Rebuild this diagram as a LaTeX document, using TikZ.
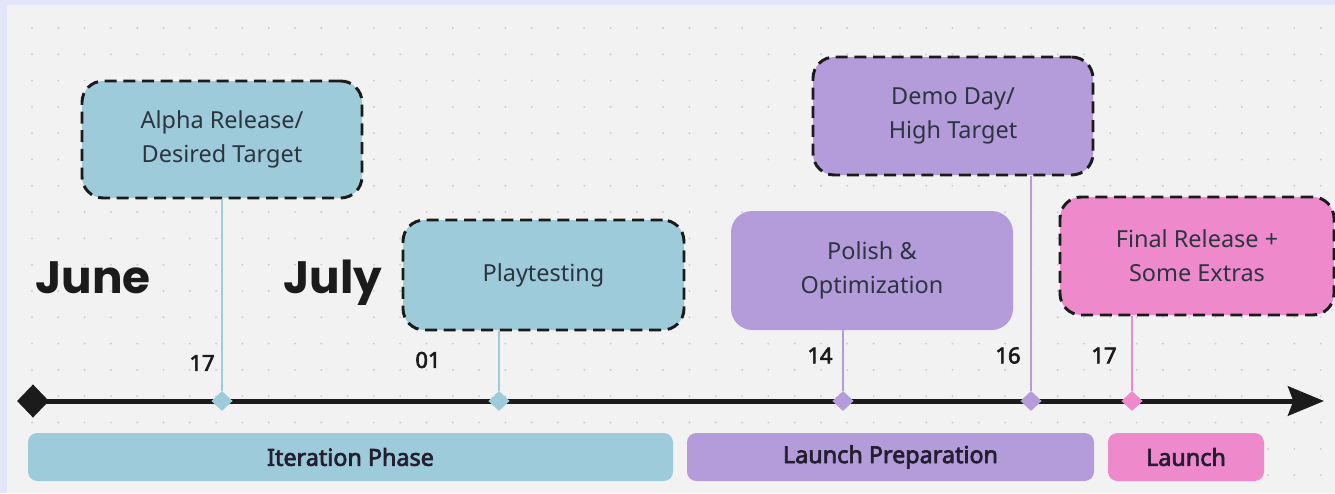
\documentclass[tikz,border=0pt]{standalone}
\usepackage{fontspec}
\setmainfont{Noto Sans}
\newfontfamily\heavysans{Noto Sans}[FakeBold=3]
\newfontfamily\monthfont{Poppins}
\usetikzlibrary{shapes.geometric,arrows.meta}

\definecolor{framec}{HTML}{E3E5FB}
\definecolor{canvasc}{HTML}{F2F2F2}
\definecolor{dotc}{HTML}{CDCDCD}
\definecolor{ink}{HTML}{1B1B1B}
\definecolor{itblue}{HTML}{9DCBDA}
\definecolor{lpurple}{HTML}{B49CDB}
\definecolor{lpink}{HTML}{EE89CC}
\definecolor{boxtext}{HTML}{2C3440}
\definecolor{phasetext}{HTML}{231F30}

\begin{document}
\begin{tikzpicture}[x=0.75pt,y=-0.75pt,
  event/.style={rounded corners=16pt, align=center, inner sep=0pt,
    font=\fontsize{17.6}{25.5}\selectfont, text=boxtext},
  dashedbox/.style={draw=ink, line width=2.2pt, dash pattern=on 9pt off 5pt},
  marker/.style={diamond, inner sep=0pt, minimum width=16pt, minimum height=15pt},
  link/.style={line width=1.5pt},
  phase/.style={rounded corners=7pt, minimum height=36pt, inner sep=0pt,
    font=\heavysans\fontsize{17.5}{20}\selectfont, text=phasetext},
  datelabel/.style={font=\heavysans\fontsize{16.5}{19}\selectfont, text=ink},
  month/.style={anchor=base west, inner sep=0pt, text=ink,
    font=\monthfont\bfseries\fontsize{34}{40}\selectfont}]

\useasboundingbox (0,0) rectangle (1335,493);

% page frame and dotted canvas
\fill[framec] (0,0) rectangle (1335,493);
\fill[canvasc] (7,5) rectangle (1335,493);
\foreach \i in {0,...,49}
  \foreach \j in {0,...,17}
    \fill[dotc] ({32+26.3*\i},{28+26.3*\j}) circle (0.8pt);

% main time axis
\coordinate (tstart) at (33,401);
\coordinate (tend) at (1324,401);
\draw[ink, line width=3.75pt, -{Stealth[length=27pt,width=22pt,inset=4pt]}] (tstart) -- (tend);
\node[diamond, fill=ink, inner sep=0pt, minimum width=24pt, minimum height=25pt] (origin) at (tstart) {};

% milestone boxes
\node[event, dashedbox, fill=itblue, minimum width=210pt, minimum height=87.75pt]
  (alpha) at (222,139.5) {Alpha Release/\\Desired Target};
\node[event, dashedbox, fill=itblue, minimum width=210.75pt, minimum height=82.5pt]
  (play) at (543.5,275) {Playtesting};
\node[event, fill=lpurple, minimum width=211.5pt, minimum height=89.25pt]
  (polish) at (872,270.5) {Polish \&\\Optimization};
\node[event, dashedbox, fill=lpurple, minimum width=210pt, minimum height=88.5pt]
  (demo) at (953,116) {Demo Day/\\High Target};
\node[event, dashedbox, fill=lpink, minimum width=205.5pt, minimum height=88.5pt]
  (final) at (1197,256) {Final Release +\\Some Extras};

% markers on the axis
\node[marker, fill=itblue] (m1) at (222,401) {};
\node[marker, fill=itblue] (m2) at (499,401) {};
\node[marker, fill=lpurple] (m3) at (843,401) {};
\node[marker, fill=lpurple] (m4) at (1031,401) {};
\node[marker, fill=lpink] (m5) at (1132,401) {};

% stems from boxes to markers
\draw[link, itblue] (alpha.south -| m1) -- (m1.north);
\draw[link, itblue] (play.south -| m2) -- (m2.north);
\draw[link, lpurple] (polish.south -| m3) -- (m3.north);
\draw[link, lpurple] (demo.south -| m4) -- (m4.north);
\draw[link, lpink] (final.south -| m5) -- (m5.north);

% dates
\node[datelabel] (d1) at (202,363) {17};
\node[datelabel] (d2) at (428,360) {01};
\node[datelabel] (d3) at (820,355.5) {14};
\node[datelabel] (d4) at (1008,355.5) {16};
\node[datelabel] (d5) at (1104,355.5) {17};

% months
\node[month] (june) at (35,293) {June};
\node[month] (july) at (283,293) {July};

% phases
\node[phase, fill=itblue, minimum width=483.75pt] (iter) at (350.5,457) {Iteration Phase};
\node[phase, fill=lpurple, minimum width=305.25pt] (prep) at (890.5,457) {Launch Preparation};
\node[phase, fill=lpink, minimum width=117pt] (launch) at (1186,457) {Launch};
\end{tikzpicture}
\end{document}
